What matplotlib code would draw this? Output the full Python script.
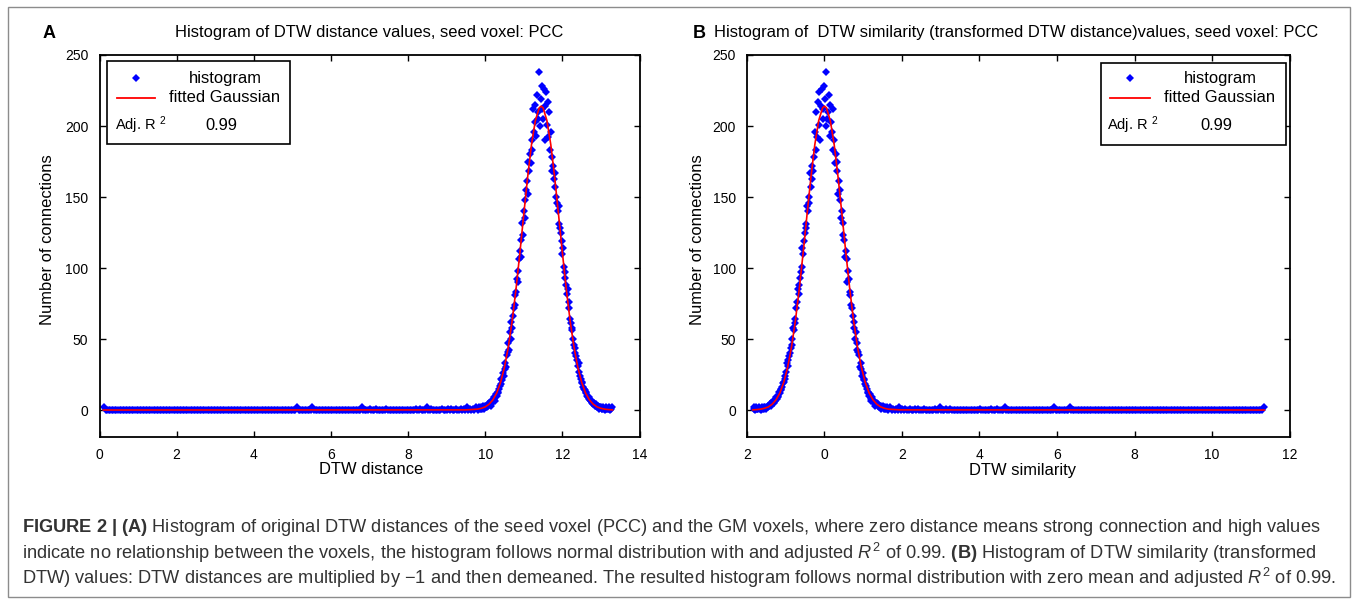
import numpy as np
import matplotlib
matplotlib.use('Agg')
import matplotlib.pyplot as plt
from matplotlib.patches import Rectangle
from matplotlib.lines import Line2D

plt.rcParams['font.family'] = ['Liberation Sans', 'DejaVu Sans']
plt.rcParams['mathtext.fontset'] = 'custom'
plt.rcParams['mathtext.rm'] = 'Liberation Sans'
plt.rcParams['mathtext.it'] = 'Liberation Sans:italic'
plt.rcParams['mathtext.bf'] = 'Liberation Sans:bold'

# ---------------- data ----------------
# flat part: bins 0.12 ... 9.76 (step 0.04), one digit per bin
base_start, base_step = 0.12, 0.04
baseline_counts = (
    "2000000000" "0000000000" "0000000000" "0000000000" "0000000000"
    "0000000000" "0000000000" "0000000000" "0000000000" "0000000000"
    "0000000000" "0000000000" "0000020000" "0000020000" "0000000000"
    "0000000000" "0000000200" "0010001000" "0001000000" "0000000000"
    "0010010002" "0010000001" "0001010010" "0101020101" "02"
)
# peak part: bins 9.80 ... 13.28 (step 0.02)
peak_start, peak_step = 9.80, 0.02
peak_counts = [
    1, 0, 2, 1, 1, 2, 1, 3, 2, 1,
    3, 2, 2, 4, 3, 5, 4, 3, 6, 5,
    7, 9, 8, 6, 11, 10, 13, 12, 15, 17,
    18, 22, 21, 26, 24, 29, 33, 30, 39, 41,
    47, 42, 55, 50, 62, 58, 66, 72, 74, 81,
    83, 92, 98, 90, 106, 112, 108, 120, 132, 123,
    140, 135, 148, 155, 161, 152, 175, 168, 180, 174,
    190, 183, 212, 196, 203, 215, 193, 222, 210, 205,
    238, 200, 219, 228, 212, 205, 226, 214, 190, 224,
    201, 217, 192, 210, 183, 196, 178, 168, 172, 163,
    157, 167, 150, 146, 140, 144, 131, 128, 125, 119,
    110, 114, 101, 97, 93, 88, 82, 85, 76, 72,
    64, 61, 56, 58, 50, 46, 44, 40, 38, 35,
    31, 33, 27, 24, 22, 20, 19, 16, 15, 14,
    12, 13, 10, 9, 8, 9, 7, 6, 5, 6,
    4, 5, 3, 4, 3, 2, 3, 2, 1, 2,
    2, 1, 1, 2, 1, 0, 1, 2, 1, 1,
    1, 2, 0, 1, 2,
]
fit_x = [0.10, 9.50, 9.80, 9.90, 10.00, 10.10, 10.20, 10.30, 10.40, 10.50,
         10.60, 10.70, 10.80, 10.90, 11.00, 11.10, 11.20, 11.30, 11.40, 11.45,
         11.50, 11.60, 11.70, 11.80, 11.90, 12.00, 12.10, 12.20, 12.30, 12.40,
         12.50, 12.60, 12.70, 12.80, 12.90, 13.00, 13.10, 13.20, 13.30]
fit_y = [0.0, 0.1, 0.6, 1.2, 2.2, 4.1, 7.2, 12.1, 19.6, 30.2,
         44.6, 63.1, 85.6, 111.0, 137.9, 164.0, 186.9, 203.8, 212.8, 214.0,
         212.8, 203.8, 186.9, 164.0, 137.9, 111.0, 85.6, 63.1, 44.6, 30.2,
         19.6, 12.1, 7.2, 4.1, 2.2, 1.2, 0.6, 0.3, 0.1]
dist_mean = 11.45   # similarity = -(distance) + mean

base_vals = [int(c) for c in baseline_counts]
counts = np.array(base_vals + peak_counts)
dist_x = np.concatenate([base_start + base_step * np.arange(len(base_vals)),
                         peak_start + peak_step * np.arange(len(peak_counts))])
sim_x = dist_mean - dist_x
fit_sim_x = dist_mean - np.array(fit_x)

yticks = [0, 50, 100, 150, 200, 250]
xticks_a = [0, 2, 4, 6, 8, 10, 12, 14]
xticks_b = [-2, 0, 2, 4, 6, 8, 10, 12]
xticklabels_b = ['2', '0', '2', '4', '6', '8', '10', '12']

# ---------------- figure ----------------
W, H = 1357, 600
fig = plt.figure(figsize=(W / 100, H / 100), dpi=100)

def fx(px):
    return px / W

def fy(py):
    return 1 - py / H

ax_top, ax_bot = 55, 437
axA = fig.add_axes([fx(99.5), fy(ax_bot), (639.5 - 99.5) / W, (ax_bot - ax_top) / H])
axB = fig.add_axes([fx(747), fy(ax_bot), (1289.5 - 747) / W, (ax_bot - ax_top) / H])

BLUE = '#0000FF'
RED = '#FF0000'
MS = 4.4

for ax, xs, fxs, lims, xt in [
    (axA, dist_x, fit_x, (0, 14), xticks_a),
    (axB, sim_x, fit_sim_x, (-2, 12), xticks_b),
]:
    ax.plot(xs, counts, linestyle='none', marker='D', ms=MS, mew=0,
            color=BLUE, zorder=2)
    ax.plot(fxs, fit_y, color=RED, lw=1.2, zorder=3)
    ax.set_xlim(*lims)
    ax.set_ylim(-19, 250)
    ax.set_xticks(xt)
    ax.set_yticks(yticks)
    ax.tick_params(direction='in', top=True, right=True, length=4, width=1,
                   labelsize=10, pad=8, colors='black')
    for sp in ax.spines.values():
        sp.set_linewidth(1.3)

axB.set_xticklabels(xticklabels_b)

# legends (drawn as boxes in axes coordinates)
def legend_box(ax, ax_left_px, ax_w_px, box, mk, line, col_c, adj_left, val_c):
    def ax_x(px):
        return (px - ax_left_px) / ax_w_px

    def ax_y(py):
        return (ax_bot - py) / (ax_bot - ax_top)

    x0, y0, x1, y1 = box
    ax.add_patch(Rectangle((ax_x(x0), ax_y(y1)), ax_x(x1) - ax_x(x0),
                           ax_y(y0) - ax_y(y1), transform=ax.transAxes,
                           facecolor='white', edgecolor='black', lw=1.2,
                           zorder=5))
    ax.add_line(Line2D([ax_x(mk)], [ax_y(78)], transform=ax.transAxes,
                       marker='D', ms=MS, mew=0, color=BLUE, zorder=6))
    ax.add_line(Line2D([ax_x(line[0]), ax_x(line[1])], [ax_y(98), ax_y(98)],
                       transform=ax.transAxes, color=RED, lw=1.3, zorder=6))
    ax.text(ax_x(col_c), ax_y(78), 'histogram', transform=ax.transAxes,
            ha='center', va='center', fontsize=11.9, zorder=7)
    ax.text(ax_x(col_c), ax_y(98), 'fitted Gaussian', transform=ax.transAxes,
            ha='center', va='center', fontsize=11.9, zorder=7)
    ax.text(ax_x(adj_left), ax_y(125), r'Adj. R $\mathregular{^2}$',
            transform=ax.transAxes, ha='left', va='center', fontsize=10.5,
            zorder=7)
    ax.text(ax_x(val_c), ax_y(125), '0.99', transform=ax.transAxes,
            ha='center', va='center', fontsize=11.9, zorder=7)

legend_box(axA, 99.5, 540, (107, 61, 290, 144), 136, (117, 155), 225, 115, 221)
legend_box(axB, 747, 542.5, (1101, 63, 1286, 145), 1130, (1110, 1150), 1220, 1107, 1216)

# titles and labels
fig.text(fx(49), fy(33), 'A', fontsize=13, fontweight='bold', ha='center', va='center')
fig.text(fx(369.5), fy(33), 'Histogram of DTW distance values, seed voxel: PCC',
         fontsize=11.9, ha='center', va='center')
fig.text(fx(699), fy(33), 'B', fontsize=13, fontweight='bold', ha='center', va='center')
fig.text(fx(714), fy(33),
         'Histogram of  DTW similarity (transformed DTW distance)values, seed voxel: PCC',
         fontsize=11.9, ha='left', va='center')

fig.text(fx(48), fy(240), 'Number of connections', rotation=90, fontsize=11.9,
         ha='center', va='center')
fig.text(fx(697), fy(240), 'Number of connections', rotation=90, fontsize=11.9,
         ha='center', va='center')
fig.text(fx(371.5), fy(470), 'DTW distance', fontsize=11.9, ha='center', va='center')
fig.text(fx(1022.5), fy(470), 'DTW similarity', fontsize=11.9, ha='center', va='center')

# caption
cap_col = '#333333'
cap_lines = [
    r'$\mathbf{FIGURE\ 2\ |\ (A)}$ Histogram of original DTW distances of the seed voxel (PCC) '
    r'and the GM voxels, where zero distance means strong connection and high values',
    r'indicate no relationship between the voxels, the histogram follows normal distribution '
    r'with and adjusted $R^2$ of 0.99. $\mathbf{(B)}$ Histogram of DTW similarity (transformed',
    r'DTW) values: DTW distances are multiplied by $-$1 and then demeaned. The resulted histogram '
    r'follows normal distribution with zero mean and adjusted $R^2$ of 0.99.',
]
for yy, s in zip([527, 553, 578], cap_lines):
    fig.text(fx(22), fy(yy), s, fontsize=13.15, color=cap_col, ha='left', va='center')

# outer frame
fig.add_artist(Rectangle((fx(8), fy(597)), fx(1350) - fx(8), fy(7) - fy(597),
                         transform=fig.transFigure, fill=False,
                         edgecolor='#8c8c8c', lw=1.0))

fig.savefig('out.png', dpi=100)
